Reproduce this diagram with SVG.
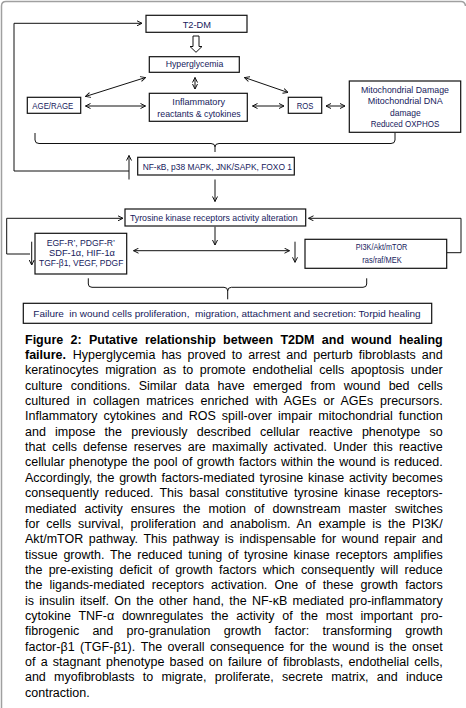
<svg xmlns="http://www.w3.org/2000/svg" width="466" height="708" viewBox="0 0 466 708">
<style>
.bx{fill:#fff;stroke:#111;stroke-width:1.2}
.lb{font-family:"Liberation Sans",Arial,sans-serif;font-size:9.8px;fill:#161a5c;text-anchor:middle}
.ln{fill:none;stroke:#111;stroke-width:1}
.cap{font-family:"Liberation Sans",Arial,sans-serif;font-size:12.5px;fill:#000}
.b{font-weight:bold}
</style>
<defs>
<marker id="ah" viewBox="0 0 6 6" refX="5.5" refY="3" markerWidth="6" markerHeight="6" orient="auto-start-reverse" markerUnits="userSpaceOnUse">
<path d="M0.5,0.5 L5.5,3 L0.5,5.5" fill="none" stroke="#111" stroke-width="1"/>
</marker>
</defs>
<rect width="466" height="708" fill="#fff"/>
<path d="M1.5,708 V6 Q1.5,1.5 6,1.5 H461 Q465,1.5 465.5,6" fill="none" stroke="#a0a0a0" stroke-width="1.5"/>

<g id="connectors">
<path class="ln" d="M14,171 V23.3 H142" marker-end="url(#ah)"/>
<path class="ln" d="M14,171 H129"/>
<path class="ln" d="M129,179.5 V155.5" marker-end="url(#ah)"/>
<path d="M193,36 H199 V46.5 H202 L196,52.3 L190,46.5 H193 Z" fill="#fff" stroke="#111" stroke-width="1"/>
<path class="ln" d="M195,77.5 V89" marker-start="url(#ah)" marker-end="url(#ah)"/>
<path class="ln" d="M145.5,77.5 L85.5,96.5" marker-start="url(#ah)" marker-end="url(#ah)"/>
<path class="ln" d="M244.5,77.5 L288,92.5" marker-start="url(#ah)" marker-end="url(#ah)"/>
<path class="ln" d="M85.5,106 H145.5" marker-start="url(#ah)" marker-end="url(#ah)"/>
<path class="ln" d="M252.5,106 H284" marker-start="url(#ah)" marker-end="url(#ah)"/>
<path class="ln" d="M326,106 H345" marker-start="url(#ah)" marker-end="url(#ah)"/>
<path class="ln" d="M35,133 V140 Q35,143.5 39,143.5 H211 Q215,143.5 215,147 V152 M215,147 Q215,143.5 219,143.5 H391 Q395,143.5 395,140 V133"/>
<path class="ln" d="M215,179.5 V201.5" marker-end="url(#ah)"/>
<path class="ln" d="M6.7,254 V218.3 H123" marker-end="url(#ah)"/>
<path class="ln" d="M6.7,254 H30"/>
<path class="ln" d="M31.7,241.7 V265" marker-end="url(#ah)"/>
<path class="ln" d="M447,252.7 H461 V218.3 H308.5" marker-end="url(#ah)"/>
<path class="ln" d="M215,226.7 V245" marker-end="url(#ah)"/>
<path class="ln" d="M133.5,250.7 H289.5" marker-start="url(#ah)" marker-end="url(#ah)"/>
<path class="ln" d="M295,241.7 V262.3" marker-end="url(#ah)"/>
<path class="ln" d="M88.3,278.3 V284 Q88.3,287.3 92,287.3 H224 Q227.7,287.3 227.7,291 V299.3 M227.7,291 Q227.7,287.3 231.4,287.3 H363 Q366.7,287.3 366.7,284 V278.3"/>
</g>

<g id="t2dm"><rect class="bx" x="146" y="15.3" width="101" height="17"/><text class="lb" x="196.8" y="27.5" textLength="28.3" lengthAdjust="spacingAndGlyphs">T2-DM</text></g>
<g id="hyperglycemia"><rect class="bx" x="149.3" y="56.7" width="90" height="15.6"/><text class="lb" x="194.5" y="67.2" textLength="57.6" lengthAdjust="spacingAndGlyphs">Hyperglycemia</text></g>
<g id="agerage"><rect class="bx" x="27.3" y="97.3" width="53.4" height="16"/><text class="lb" x="52.8" y="108.9" textLength="41" lengthAdjust="spacingAndGlyphs">AGE/RAGE</text></g>
<g id="inflammatory"><rect class="bx" x="149.3" y="93.3" width="98" height="28"/><text class="lb" x="198.7" y="105.2" textLength="52.7" lengthAdjust="spacingAndGlyphs">Inflammatory</text><text class="lb" x="199" y="116.5" textLength="83.3" lengthAdjust="spacingAndGlyphs">reactants &amp; cytokines</text></g>
<g id="ros"><rect class="bx" x="288.3" y="97.3" width="33.4" height="16"/><text class="lb" x="305" y="108.9" textLength="16.7" lengthAdjust="spacingAndGlyphs">ROS</text></g>
<g id="mito"><rect class="bx" x="349.3" y="81" width="111.4" height="51.3"/><text class="lb" x="405" y="92.6" textLength="88" lengthAdjust="spacingAndGlyphs">Mitochondrial Damage</text><text class="lb" x="405.2" y="104.4" textLength="75" lengthAdjust="spacingAndGlyphs">Mitochondrial DNA</text><text class="lb" x="405.3" y="115.5" textLength="30.7" lengthAdjust="spacingAndGlyphs">damage</text><text class="lb" x="405" y="126.9" textLength="68.7" lengthAdjust="spacingAndGlyphs">Reduced OXPHOS</text></g>
<g id="nfkb"><rect class="bx" x="137.7" y="157.3" width="156.6" height="17.7"/><text class="lb" x="217.3" y="169.7" textLength="149.3" lengthAdjust="spacingAndGlyphs">NF-κB, p38 MAPK, JNK/SAPK, FOXO 1</text></g>
<g id="tyrosine"><rect class="bx" x="125" y="209" width="180.7" height="17"/><text class="lb" x="213.8" y="221" textLength="167.7" lengthAdjust="spacingAndGlyphs">Tyrosine kinase receptors activity alteration</text></g>
<g id="growthfactors"><rect class="bx" x="35" y="233.3" width="91.7" height="40.7"/><text class="lb" x="80.8" y="245.5" textLength="68.3" lengthAdjust="spacingAndGlyphs">EGF-R’, PDGF-R’</text><text class="lb" x="82" y="255.5" textLength="66" lengthAdjust="spacingAndGlyphs">SDF-1α, HIF-1α</text><text class="lb" x="81.2" y="265.5" textLength="84.3" lengthAdjust="spacingAndGlyphs">TGF-β1, VEGF, PDGF</text></g>
<g id="pi3k"><rect class="bx" x="305" y="239.3" width="141.7" height="29"/><text class="lb" x="381.5" y="249.7" textLength="51.7" lengthAdjust="spacingAndGlyphs">PI3K/Akt/mTOR</text><text class="lb" x="382" y="262.5" textLength="39.3" lengthAdjust="spacingAndGlyphs">ras/raf/MEK</text></g>
<g id="failure"><rect class="bx" x="23.3" y="303.3" width="408.4" height="20"/><text class="lb" x="227" y="316.7" textLength="387.3" lengthAdjust="spacingAndGlyphs" style="white-space:pre" xml:space="preserve">Failure  in wound cells proliferation,  migration, attachment and secretion: Torpid healing</text></g>

<g id="caption">
<text class="cap b" x="25" y="343.5" word-spacing="3.85" textLength="417.7" lengthAdjust="spacing">Figure 2: Putative relationship between T2DM and wound healing</text>
<text class="cap b" x="25" y="358.9">failure.</text>
<text class="cap" x="72.7" y="358.9" word-spacing="2.56" textLength="370" lengthAdjust="spacing">Hyperglycemia has proved to arrest and perturb fibroblasts and</text>
<text class="cap" x="25" y="374.2" word-spacing="3.06" textLength="417.7" lengthAdjust="spacing">keratinocytes migration as to promote endothelial cells apoptosis under</text>
<text class="cap" x="25" y="389.6" word-spacing="4.72" textLength="417.7" lengthAdjust="spacing">culture conditions. Similar data have emerged from wound bed cells</text>
<text class="cap" x="25" y="404.9" word-spacing="3.27" textLength="417.7" lengthAdjust="spacing">cultured in collagen matrices enriched with AGEs or AGEs precursors.</text>
<text class="cap" x="25" y="420.3" word-spacing="2.53" textLength="417.7" lengthAdjust="spacing">Inflammatory cytokines and ROS spill-over impair mitochondrial function</text>
<text class="cap" x="25" y="435.7" word-spacing="5.75" textLength="417.7" lengthAdjust="spacing">and impose the previously described cellular reactive phenotype so</text>
<text class="cap" x="25" y="451" word-spacing="2.66" textLength="417.7" lengthAdjust="spacing">that cells defense reserves are maximally activated. Under this reactive</text>
<text class="cap" x="25" y="466.4" word-spacing="1.02" textLength="417.7" lengthAdjust="spacing">cellular phenotype the pool of growth factors within the wound is reduced.</text>
<text class="cap" x="25" y="481.7" word-spacing="1.2" textLength="417.7" lengthAdjust="spacing">Accordingly, the growth factors-mediated tyrosine kinase activity becomes</text>
<text class="cap" x="25" y="497.1" word-spacing="2.7" textLength="417.7" lengthAdjust="spacing">consequently reduced. This basal constitutive tyrosine kinase receptors-</text>
<text class="cap" x="25" y="512.5" word-spacing="4.54" textLength="417.7" lengthAdjust="spacing">mediated activity ensures the motion of downstream master switches</text>
<text class="cap" x="25" y="527.8" word-spacing="3.14" textLength="417.7" lengthAdjust="spacing">for cells survival, proliferation and anabolism. An example is the PI3K/</text>
<text class="cap" x="25" y="543.2" word-spacing="2.0" textLength="417.7" lengthAdjust="spacing">Akt/mTOR pathway. This pathway is indispensable for wound repair and</text>
<text class="cap" x="25" y="558.5" word-spacing="2.26" textLength="417.7" lengthAdjust="spacing">tissue growth. The reduced tuning of tyrosine kinase receptors amplifies</text>
<text class="cap" x="25" y="573.9" word-spacing="2.8" textLength="417.7" lengthAdjust="spacing">the pre-existing deficit of growth factors which consequently will reduce</text>
<text class="cap" x="25" y="589.3" word-spacing="3.66" textLength="417.7" lengthAdjust="spacing">the ligands-mediated receptors activation. One of these growth factors</text>
<text class="cap" x="25" y="604.6" word-spacing="1.88" textLength="417.7" lengthAdjust="spacing">is insulin itself. On the other hand, the NF-κB mediated pro-inflammatory</text>
<text class="cap" x="25" y="620" word-spacing="4.31" textLength="417.7" lengthAdjust="spacing">cytokine TNF-α downregulates the activity of the most important pro-</text>
<text class="cap" x="25" y="635.3" word-spacing="9.75" textLength="417.7" lengthAdjust="spacing">fibrogenic and pro-granulation growth factor: transforming growth</text>
<text class="cap" x="25" y="650.7" word-spacing="1.98" textLength="417.7" lengthAdjust="spacing">factor-β1 (TGF-β1). The overall consequence for the wound is the onset</text>
<text class="cap" x="25" y="666.1" word-spacing="1.75" textLength="417.7" lengthAdjust="spacing">of a stagnant phenotype based on failure of fibroblasts, endothelial cells,</text>
<text class="cap" x="25" y="681.4" word-spacing="4.8" textLength="417.7" lengthAdjust="spacing">and myofibroblasts to migrate, proliferate, secrete matrix, and induce</text>
<text class="cap" x="25" y="696.8">contraction.</text>
</g>
</svg>
